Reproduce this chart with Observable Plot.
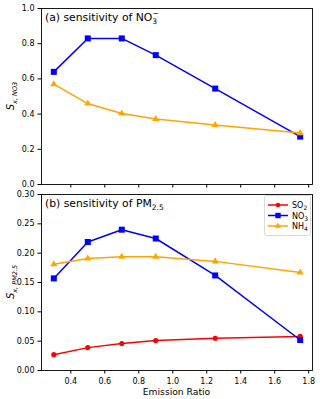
<!DOCTYPE html>
<html><head><meta charset="utf-8">
<script src="https://cdn.jsdelivr.net/npm/d3@7"></script>
<script src="https://cdn.jsdelivr.net/npm/@observablehq/plot@0.6"></script>
<style>body{margin:0;background:#fff} svg{display:block;font-family:"DejaVu Sans"} #c{width:320px}</style>
</head><body><div id="c"></div>
<script>
const ratio = [0.3, 0.5, 0.7, 0.9, 1.25, 1.75];
const topNO3 = [0.64, 0.83, 0.83, 0.735, 0.545, 0.272];
const topNH4 = [0.57, 0.46, 0.403, 0.372, 0.338, 0.292];
const pmSO2 = [0.027, 0.039, 0.046, 0.051, 0.055, 0.058];
const pmNO3 = [0.157, 0.219, 0.240, 0.225, 0.162, 0.052];
const pmNH4 = [0.181, 0.191, 0.194, 0.194, 0.186, 0.167];
const xTicks = [0.4, 0.6, 0.8, 1.0, 1.2, 1.4, 1.6, 1.8];
const topYTicks = [0, 0.2, 0.4, 0.6, 0.8, 1.0];
const pmYTicks = [0, 0.05, 0.1, 0.15, 0.2, 0.25, 0.3];
const seriesNames = ["SO2", "NO3", "NH4"];
const colors = {SO2: "#ff0000", NO3: "#0000ff", NH4: "#ffa500"};
const symbols = {SO2: "circle", NO3: "square", NH4: "triangle"};
const radii = {SO2: 2.6, NO3: 3.4, NH4: 2.6};

const rows = (vals) => vals.map((v, i) => ({x: ratio[i], y: v}));
const xDomain = [0.2275, 1.8225];
const W = 320, ML = 41, MR = 8;

function seriesMarks(name, vals) {
  const d = rows(vals);
  return [
    Plot.line(d, {x: "x", y: "y", stroke: colors[name], strokeWidth: 1.5}),
    Plot.dot(d, {x: "x", y: "y", fill: colors[name], stroke: "none", symbol: symbols[name], r: radii[name]})
  ];
}

const style = {fontFamily: "DejaVu Sans", fontSize: "8px", color: "#000", background: "#fff", overflow: "visible"};

const chartA = Plot.plot({
  width: W, height: 189, marginLeft: ML, marginRight: MR, marginTop: 8, marginBottom: 5,
  style,
  x: {domain: xDomain},
  y: {domain: [0, 1]},
  marks: [
    Plot.axisX({ticks: xTicks, tickSize: 3.5, tickFormat: () => "", label: null}),
    Plot.axisY({ticks: topYTicks, tickSize: 3.5, tickPadding: 3.5, tickFormat: d3.format(".1f"), label: null}),
    ...seriesMarks("NO3", topNO3),
    ...seriesMarks("NH4", topNH4),
    Plot.frame({stroke: "#000", strokeWidth: 0.9})
  ]
});

const chartB = Plot.plot({
  width: W, height: 210, marginLeft: ML, marginRight: MR, marginTop: 5, marginBottom: 29,
  style,
  x: {domain: xDomain},
  y: {domain: [0, 0.3]},
  marks: [
    Plot.axisX({ticks: xTicks, tickSize: 3.5, tickPadding: 4, tickFormat: d3.format(".1f"), label: null}),
    Plot.axisY({ticks: pmYTicks, tickSize: 3.5, tickPadding: 3.5, tickFormat: d3.format(".2f"), label: null}),
    ...seriesMarks("SO2", pmSO2),
    ...seriesMarks("NO3", pmNO3),
    ...seriesMarks("NH4", pmNH4),
    Plot.frame({stroke: "#000", strokeWidth: 0.9})
  ]
});

document.getElementById("c").append(chartA, chartB);

function richText(svg, x, y, parts, opts = {}) {
  const t = d3.select(svg).append("text")
    .attr("x", x).attr("y", y)
    .attr("font-family", "DejaVu Sans")
    .attr("font-size", opts.size || 12)
    .attr("fill", "#000")
    .attr("text-anchor", opts.rotate ? "middle" : "start");
  if (opts.rotate) t.attr("transform", `rotate(-90 ${x} ${y})`);
  let shift = 0;
  for (const p of parts) {
    const s = t.append("tspan").text(p.t);
    if (p.size) s.attr("font-size", p.size);
    if (p.italic) s.attr("font-style", "italic");
    if (p.dx) s.attr("dx", p.dx);
    const target = p.dy || 0;
    if (target !== shift) { s.attr("dy", target - shift); shift = target; }
  }
  return t;
}

// titles
richText(chartA, 45, 21, [
  {t: "(a) sensitivity of NO"},
  {t: "3", size: 7.5, dy: 3},
  {t: "−", size: 7.5, dy: -5, dx: -4.6}
], {size: 10.8});

richText(chartB, 45, 18, [
  {t: "(b) sensitivity of PM"},
  {t: "2.5", size: 7.5, dy: 3}
], {size: 10.8});

// y labels
richText(chartA, 14, 96, [
  {t: "S", italic: true},
  {t: "x, NO3", italic: true, size: 6.5, dy: 2.5}
], {size: 10, rotate: true});
richText(chartB, 14, 93, [
  {t: "S", italic: true},
  {t: "x, PM2.5", italic: true, size: 6.5, dy: 2.5}
], {size: 10, rotate: true});

// x label
d3.select(chartB).append("text").attr("x", (ML + W - MR) / 2).attr("y", 205.5)
  .attr("text-anchor", "middle").attr("font-family", "DejaVu Sans").attr("font-size", 9.2)
  .attr("fill", "#000").text("Emission Ratio");

// legend
const lg = d3.select(chartB).append("g");
lg.append("rect").attr("x", 264.5).attr("y", 6.5).attr("width", 46).attr("height", 40)
  .attr("rx", 2).attr("fill", "#fff").attr("fill-opacity", 0.8).attr("stroke", "#d0d0d0").attr("stroke-width", 0.8);
seriesNames.forEach((n, i) => {
  const yy = 16 + i * 10.5;
  lg.append("line").attr("x1", 268).attr("x2", 288).attr("y1", yy).attr("y2", yy)
    .attr("stroke", colors[n]).attr("stroke-width", 1.5);
  const sym = {circle: d3.symbolCircle, square: d3.symbolSquare, triangle: d3.symbolTriangle}[symbols[n]];
  lg.append("path").attr("d", d3.symbol(sym, Math.PI * radii[n] * radii[n] * 0.8)())
    .attr("transform", `translate(278,${yy})`).attr("fill", colors[n]);
  const t = lg.append("text").attr("x", 292).attr("y", yy + 3).attr("font-family", "DejaVu Sans")
    .attr("font-size", 8).attr("fill", "#000").attr("text-anchor", "start");
  t.append("tspan").text(n.slice(0, 2));
  t.append("tspan").text(n.slice(2)).attr("font-size", 6).attr("dy", 2);
});
</script></body></html>
